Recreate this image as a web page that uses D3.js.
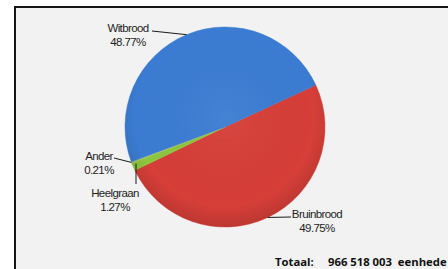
<!DOCTYPE html>
<html>
<head>
<meta charset="utf-8">
<script src="https://cdn.jsdelivr.net/npm/d3@7"></script>
<style>
    body { margin: 0; background: #ffffff; }
    svg { display: block; }
</style>
</head>
<body>
<div id="chart"></div>
<script>
// data
var categories = ["Bruinbrood", "Heelgraan", "Ander", "Witbrood"];
var shares = [49.75, 1.27, 0.21, 48.77];
var shareLabels = ["49.75%", "1.27%", "0.21%", "48.77%"];
var totalLabel = "Totaal:";
var totalValue = "966 518 003  eenhede";

var app = app || {};

app.PieModule = (function () {
    'use strict';

    var colors = {
        Bruinbrood: "#d63e38",
        Heelgraan: "#8cc63f",
        Ander: "#a9c46a",
        Witbrood: "#3b7cd2"
    };

    // where each label goes, relative to the page
    var labelLayout = {
        Witbrood: { end: [152, 31], text: [128, 32], anchor: "middle" },
        Bruinbrood: { end: [291, 217], text: [317, 218], anchor: "middle" },
        Ander: { end: [114, 158], text: [99, 160], anchor: "middle" },
        Heelgraan: { end: [136, 184], text: [115, 197], anchor: "middle", vertical: true }
    };

    var init = function (baseElement) {
        var config = configure(d3.select(baseElement));
        structure(config);
        slices(config);
        labels(config);
        total(config);
        return config;
    };

    var configure = function (base) {
        return {
            base: base,
            width: 448,
            height: 269,
            cx: 225,
            cy: 127,
            r: 100,
            startAngle: 65.2 * Math.PI / 180
        };
    };

    var structure = function (config) {
        var svg = config.base.append("svg")
            .attr("width", config.width)
            .attr("height", config.height);

        var defs = svg.append("defs");
        var grad = defs.append("radialGradient")
            .attr("id", "shade")
            .attr("cx", "50%").attr("cy", "45%").attr("r", "55%");
        grad.append("stop").attr("offset", "0%").attr("stop-color", "#ffffff").attr("stop-opacity", 0.05);
        grad.append("stop").attr("offset", "82%").attr("stop-color", "#000000").attr("stop-opacity", 0.0);
        grad.append("stop").attr("offset", "100%").attr("stop-color", "#000000").attr("stop-opacity", 0.12);

        // framed panel
        svg.append("rect")
            .attr("x", 15)
            .attr("y", 7)
            .attr("width", config.width)
            .attr("height", config.height)
            .attr("fill", "#f2f2f2")
            .attr("stroke", "#141414")
            .attr("stroke-width", 2);

        config.svg = svg;
        config.group = svg.append("g")
            .attr("transform", "translate(" + config.cx + "," + config.cy + ")");
    };

    var slices = function (config) {
        var data = categories.map(function (c, i) {
            return { name: c, value: shares[i], label: shareLabels[i] };
        });

        var pie = d3.pie()
            .sort(null)
            .value(function (d) { return d.value; })
            .startAngle(config.startAngle)
            .endAngle(config.startAngle + 2 * Math.PI);

        config.arc = d3.arc().innerRadius(0).outerRadius(config.r);
        config.arcs = pie(data);

        config.group.selectAll("path.slice")
            .data(config.arcs)
            .enter()
            .append("path")
            .attr("class", "slice")
            .attr("d", config.arc)
            .attr("fill", function (d) { return colors[d.data.name]; })
            .attr("stroke", function (d) { return colors[d.data.name]; })
            .attr("stroke-width", 0.5);

        // soft 3d shading over the whole pie
        config.group.append("circle")
            .attr("r", config.r)
            .attr("fill", "url(#shade)");
    };

    var labels = function (config) {
        var svg = config.svg;
        config.arcs.forEach(function (d) {
            var lay = labelLayout[d.data.name];
            var mid = (d.startAngle + d.endAngle) / 2;
            var sx = config.cx + config.r * Math.sin(mid);
            var sy = config.cy - config.r * Math.cos(mid);
            var pts;
            if (lay.vertical) {
                pts = [[lay.end[0], sy - 3], lay.end];
            } else {
                pts = [[sx, sy], lay.end];
            }
            svg.append("path")
                .attr("d", d3.line()(pts))
                .attr("fill", "none")
                .attr("stroke", "#1a1a1a")
                .attr("stroke-width", 1);

            var t = svg.append("text")
                .attr("x", lay.text[0])
                .attr("y", lay.text[1])
                .attr("text-anchor", lay.anchor)
                .style("font-family", "'Liberation Sans', Arial, sans-serif")
                .style("font-size", "11.5px")
                .style("letter-spacing", "-0.6px")
                .attr("fill", "#1e1e1e");
            t.append("tspan")
                .attr("x", lay.text[0])
                .text(d.data.name);
            t.append("tspan")
                .attr("x", lay.text[0])
                .attr("dy", 14)
                .text(d.data.label);
        });
    };

    var total = function (config) {
        var g = config.svg.append("g")
            .style("font-family", "'Open Sans', 'Liberation Sans', sans-serif")
            .style("font-weight", "bold")
            .style("font-size", "11.3px")
            .attr("fill", "#111");
        g.append("text").attr("x", 275).attr("y", 266).text(totalLabel);
        g.append("text").attr("x", 328).attr("y", 266)
            .attr("xml:space", "preserve")
            .style("white-space", "pre")
            .text(totalValue);
    };

    return {
        init: init
    };
}());

app.PieModule.init("#chart");
</script>
</body>
</html>
